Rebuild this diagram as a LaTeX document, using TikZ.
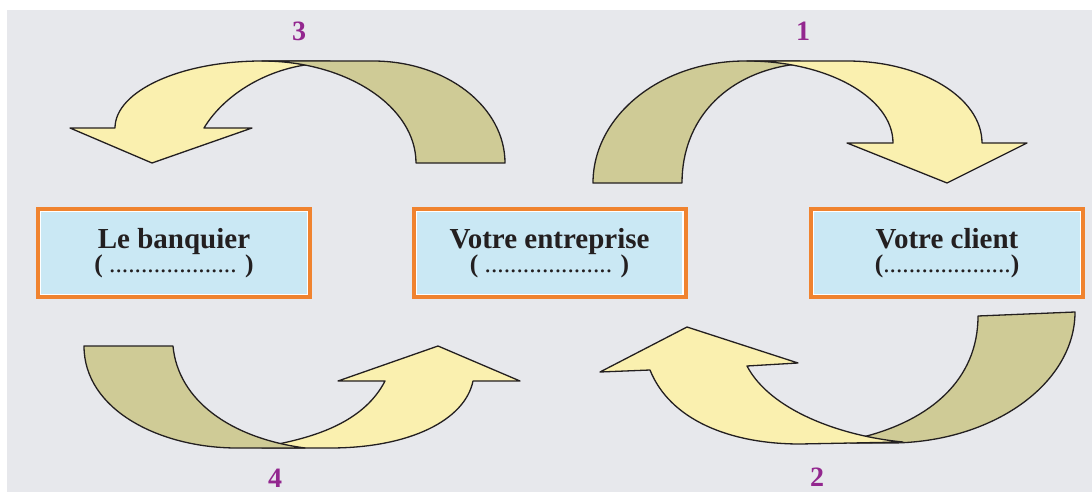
\documentclass[tikz,border=0pt]{standalone}
\usepackage{fontspec}
\setmainfont{Liberation Serif}
\definecolor{bgc}{HTML}{E7E8EC}
\definecolor{yel}{HTML}{FAF0AF}
\definecolor{olv}{HTML}{CFCB96}
\definecolor{orb}{HTML}{F0832F}
\definecolor{blb}{HTML}{CAE8F4}
\definecolor{purp}{HTML}{93278F}
\definecolor{ink}{HTML}{231F20}
\begin{document}
\begin{tikzpicture}[x=1pt,y=-1pt,
  arr/.style={draw=ink, line width=1.3pt, line join=round},
  yelpart/.style={arr, fill=yel},
  olvpart/.style={arr, fill=olv},
  boxst/.style={draw=orb, line width=4pt, fill=blb, minimum width=272pt, minimum height=88pt, inner sep=0pt, outer sep=0pt},
  inner/.style={draw=white, line width=1.2pt},
  title/.style={font=\fontsize{29}{30}\selectfont\bfseries, text=ink, anchor=base, inner sep=0pt},
  sub/.style={font=\fontsize{25.5}{27}\selectfont, text=ink, anchor=base, inner sep=0pt},
  num/.style={font=\fontsize{28}{30}\selectfont\bfseries, text=purp, anchor=base, inner sep=0pt}]
\useasboundingbox (0,0) rectangle (1092,492);
\fill[white] (0,0) rectangle (1092,492);
\fill[bgc] (7,10) rectangle (1092,492);

% boxes
\node[boxst] (b1) at (174,253) {};
\node[boxst] (b2) at (549.5,253) {};
\node[boxst] (b3) at (947,253) {};
\foreach \b in {b1,b2,b3}{
  \draw[inner] ([shift={(2.6pt,-2.6pt)}]\b.north west) rectangle ([shift={(-2.6pt,2.6pt)}]\b.south east);
}
\node[title] (t1) at ([yshift=5pt]b1.center) {Le banquier};
\node[sub] (s1) at ([yshift=-19pt]b1.center) {\textbf{(} .................... \textbf{)}};
\node[title] (t2) at ([yshift=5pt]b2.center) {Votre entreprise};
\node[sub] (s2) at ([yshift=-19pt]b2.center) {\textbf{(} .................... \textbf{)}};
\node[title] (t3) at ([yshift=5pt]b3.center) {Votre client};
\node[sub] (s3) at ([yshift=-19pt]b3.center) {\textbf{(}....................\textbf{)}};

% arrow 1 (top right), yellow in front
\draw[olvpart] (593,183) .. controls (593,115.6) and (661,61) .. (745,61) -- (800,61) -- (797,64.5) -- (790,65)
  .. controls (725,75) and (682,120) .. (682,183) -- cycle;
\draw[yelpart] (747,61) -- (847,61) .. controls (921.6,61) and (982,97.7) .. (982,143) -- (1027,143) -- (947,183)
  -- (847,143) -- (893,143) .. controls (893,97.7) and (827.6,61) .. (747,61) -- cycle;

% arrow 3 (top left), olive in front
\draw[yelpart] (115,128) .. controls (115,91) and (180.8,61) .. (262,61) -- (330,61) -- (312,63.5) -- (305,65)
  .. controls (260,72) and (222,98) .. (204,128) -- (252,128) -- (152,163) -- (70,128) -- cycle;
\draw[olvpart] (262,61) -- (373,61) .. controls (446,61) and (505,106.7) .. (505,163) -- (416,163)
  .. controls (416,106.7) and (347,61) .. (262,61) -- cycle;

% arrow 2 (bottom right), yellow in front
\draw[olvpart] (978,316) .. controls (978,380) and (930,420) .. (863,437) -- (850,443) -- (890,443)
  .. controls (992,443) and (1075,384) .. (1075,312) -- cycle;
\draw[yelpart] (650,370) .. controls (670,420) and (730,444) .. (800,444) -- (903,442)
  .. controls (840,436) and (770,410) .. (747,366) -- (798,363) -- (687,327) -- (600,372) -- cycle;

% arrow 4 (bottom left), olive in front
\draw[yelpart] (262,448) -- (330,448) .. controls (410,448) and (465,420) .. (473,381) -- (520,381) -- (438,346)
  -- (338,381) -- (385,381) .. controls (365,420) and (320,435) .. (283,443) -- (268,446.5) -- cycle;
\draw[olvpart] (84,346) -- (173,346) .. controls (178,400) and (230,438) .. (305,448) -- (237,448)
  .. controls (160,448) and (84,410) .. (84,346) -- cycle;

% numbers
\node[num] (n1) at (803,41) {1};
\node[num] (n3) at (299,41) {3};
\node[num] (n4) at (275,487) {4};
\node[num] (n2) at (817,486) {2};
\end{tikzpicture}
\end{document}
